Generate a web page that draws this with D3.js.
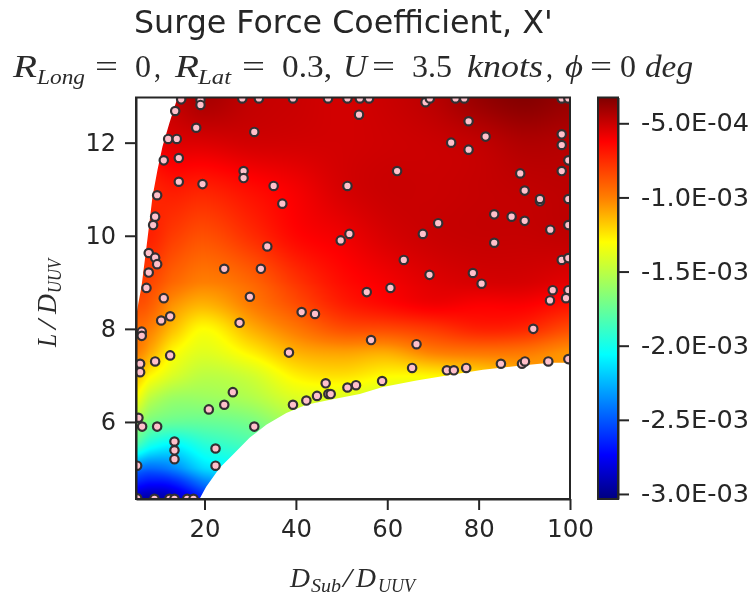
<!DOCTYPE html>
<html><head><meta charset="utf-8">
<script src="https://cdn.jsdelivr.net/npm/d3@7"></script>
<style>html,body{margin:0;padding:0;background:#fff}svg{display:block;filter:blur(0.55px)}</style>
</head><body><svg id="c" width="755" height="598"></svg>
<script>
const xTicks=[20,40,60,80,100];
const yTicks=[6,8,10,12];
const cbTicks=[-5e-4,-1e-3,-1.5e-3,-2e-3,-2.5e-3,-3e-3];
const xDomain=[5,100], yDomain=[4.345,12.97], cDomain=[-3.034e-3,-3.26e-4];
const jetStops=["#00007f","#0000ff","#007fff","#00ffff","#7fff7f","#ffff00","#ff7f00","#ff0000","#7f0000"];
const jetPos=[0,0.11,0.236,0.36,0.5,0.64,0.75,0.89,1];
const gridX=[5,8,13,20,30,40,50,60,70,80,90,100];
const gridY=[13,12,11,10,9,8.5,8,7.5,7,6.5,6,5.5,5,4.7,4.345];
const gridZ=[
[-.50,-.50,-.48,-.42,-.48,-.50,-.52,-.50,-.46,-.38,-.34,-.38],
[-.60,-.60,-.55,-.54,-.52,-.52,-.52,-.51,-.50,-.48,-.44,-.45],
[-.75,-.73,-.70,-.72,-.66,-.60,-.53,-.50,-.50,-.49,-.48,-.47],
[-.75,-.72,-.80,-.86,-.76,-.64,-.59,-.53,-.50,-.49,-.49,-.48],
[-.80,-.83,-.93,-1.0,-.93,-.78,-.66,-.60,-.55,-.53,-.53,-.56],
[-.86,-.90,-1.05,-1.13,-1.0,-.86,-.72,-.65,-.60,-.62,-.62,-.68],
[-.95,-1.0,-1.15,-1.3,-1.12,-.98,-.86,-.84,-.79,-.72,-.74,-.85],
[-1.0,-1.1,-1.29,-1.39,-1.27,-1.12,-1.08,-1.1,-1.0,-.97,-.98,-1.05],
[-1.15,-1.28,-1.41,-1.5,-1.44,-1.27,-1.23,-1.29,-1.28,-1.23,-1.15,-1.1],
[-1.33,-1.5,-1.6,-1.6,-1.54,-1.41,-1.41,-1.45,-1.5,-1.5,-1.5,-1.5],
[-1.58,-1.7,-1.75,-1.75,-1.7,-1.55,-1.55,-1.55,-1.55,-1.55,-1.55,-1.55],
[-1.85,-2.0,-2.08,-1.95,-1.85,-1.75,-1.75,-1.75,-1.75,-1.75,-1.75,-1.75],
[-2.4,-2.45,-2.38,-2.15,-2.05,-2.0,-2.0,-2.0,-2.0,-2.0,-2.0,-2.0],
[-2.65,-2.7,-2.66,-2.4,-2.2,-2.2,-2.2,-2.2,-2.2,-2.2,-2.2,-2.2],
[-2.9,-2.95,-2.9,-2.65,-2.4,-2.4,-2.4,-2.4,-2.4,-2.4,-2.4,-2.4]];
const leftEdgeX=[14.2,12.33,10.79,9.7,8.6,7.94,7.29,6.19,5.53,4.9];
const leftEdgeY=[13,12.43,11.91,11.41,10.83,10.28,9.76,8.9,8.56,8.19];
const lowEdgeX=[18.9,20.37,23.29,26.14,29.86,33.52,37.91,42.29,48.06,53.98,59.02,66.4,73.7,80.94,88.33,95.62,100];
const lowEdgeY=[4.345,4.61,5.01,5.29,5.66,5.94,6.19,6.37,6.49,6.6,6.75,6.89,7.01,7.12,7.2,7.27,7.27];
const pointX=[14.89,19.12,19.12,28.26,31.9,39.36,47.03,51.28,54,53.82,13.58,18.18,30.89,12.04,13.93,14.37,11.08,28.55,28.55,14.37,19.56,35.13,51.28,37.03,9.63,9.19,8.75,51.72,49.81,33.74,7.79,9.19,9.63,7.79,24.32,32.34,7.29,11.08,29.93,
56.01,68.38,69.32,74.95,76.84,98.19,99.64,77.8,81.53,73.99,77.8,98.19,98.19,99.64,62.15,89.11,98.19,90.08,99.64,93.43,93.43,83.41,87.22,90.08,71.14,67.79,95.69,99.64,83.41,63.62,98.19,99.64,69.25,78.74,80.65,60.7,55.51,96.22,99.64,99.13,95.62,
12.48,10.51,27.67,41.26,44.18,6.26,6.26,12.48,9.19,5.9,5.9,38.48,26.2,24.32,20.94,46.52,51.28,53.16,47.11,47.62,44.62,42.29,39.36,30.89,5.53,6.34,9.63,13.42,13.42,13.42,22.41,22.41,5.25,5.25,9.04,12.33,13.42,16.21,17.59,58.87,65.44,56.45,66.4,73.05,74.58,77.28,84.88,89.49,90.14,95.25,99.64,91.96];
const pointY=[12.93,12.92,12.81,12.95,12.95,12.95,12.95,12.95,12.95,12.6,12.68,12.32,12.23,12.08,12.08,11.67,11.62,11.39,11.24,11.16,11.11,11.07,11.07,10.69,10.87,10.41,10.23,10.04,9.9,9.77,9.63,9.53,9.39,9.21,9.29,9.29,8.88,8.66,8.69,
12.95,12.87,12.95,12.95,12.95,12.95,12.95,12.46,12.13,12.0,11.85,12.18,11.95,11.62,11.39,11.34,11.39,10.97,10.79,10.74,10.79,10.46,10.41,10.32,10.27,10.04,10.13,10.23,9.85,9.48,9.48,9.52,9.16,9.2,8.97,8.88,8.79,8.83,8.83,8.66,8.61,
8.27,8.18,8.13,8.36,8.32,7.94,7.85,7.43,7.3,7.25,7.07,7.49,6.64,6.37,6.27,6.83,6.74,6.79,6.6,6.6,6.56,6.46,6.37,5.9,6.09,5.9,5.9,5.58,5.39,5.2,5.43,5.06,5.06,4.36,4.35,4.35,4.35,4.35,4.35,6.88,7.16,7.76,7.67,7.11,7.11,7.16,7.25,7.25,7.3,7.3,7.35,8.0];

const L=136,R=570,T=97.5,B=499, CL=598,CR=618;
const x=d3.scaleLinear(xDomain,[L,R]);
const y=d3.scaleLinear(yDomain,[B,T]);
const cY=d3.scaleLinear(cDomain,[B,T]);
const jet=d3.scaleLinear().domain(jetPos).range(jetStops).clamp(true);
const cNorm=d3.scaleLinear(cDomain,[0,1]);
const color=v=>jet(cNorm(v));
const svg=d3.select("#c");
const ink="#262626", FONT="'DejaVu Sans'", SERIF="'Liberation Serif'";

const ix=d3.scaleLinear(gridX,d3.range(gridX.length)).clamp(true);
const iy=d3.scaleLinear(gridY,d3.range(gridY.length)).clamp(true);
const cr=(a,b,c,d,t)=>b+0.5*t*(c-a+t*(2*a-5*b+4*c-d+t*(3*(b-c)+d-a)));
function field(px,py){
  const u=ix(px),w=iy(py),i=Math.min(Math.floor(u),gridX.length-2),j=Math.min(Math.floor(w),gridY.length-2);
  const tu=u-i,tw=w-j,rows=[];
  for(let m=-1;m<=2;m++){
    const r=gridZ[Math.max(0,Math.min(gridY.length-1,j+m))];
    const g=k=>r[Math.max(0,Math.min(gridX.length-1,k))];
    rows.push(cr(g(i-1),g(i),g(i+1),g(i+2),tu));
  }
  return cr(rows[0],rows[1],rows[2],rows[3],tw)*1e-3;
}
const W=Math.ceil(R-L),H=Math.ceil(B-T);
const cv=document.createElement("canvas");cv.width=W;cv.height=H;
const ctx=cv.getContext("2d"),im=ctx.createImageData(W,H);
for(let j=0;j<H;j++)for(let i=0;i<W;i++){
  const c=d3.rgb(color(field(x.invert(L+i+.5),y.invert(T+j+.5)))),p=(j*W+i)*4;
  im.data[p]=c.r;im.data[p+1]=c.g;im.data[p+2]=c.b;im.data[p+3]=255;
}
ctx.putImageData(im,0,0);
const defs=svg.append("defs");
const poly=[];
leftEdgeX.forEach((d,i)=>poly.push([x(d),y(leftEdgeY[i])]));
poly.push([x(xDomain[0]),y(leftEdgeY[leftEdgeY.length-1])],[x(xDomain[0]),y(yDomain[0])]);
lowEdgeX.forEach((d,i)=>poly.push([x(d),y(lowEdgeY[i])]));
poly.push([x(xDomain[1]),y(13)]);
defs.append("clipPath").attr("id","field").append("path").attr("d",d3.line()(poly)+"Z");
defs.append("clipPath").attr("id","plot").append("rect").attr("x",L).attr("y",T).attr("width",R-L).attr("height",B-T);
const grad=defs.append("linearGradient").attr("id","cb").attr("x1",0).attr("x2",0).attr("y1",1).attr("y2",0);
jetPos.forEach((p,i)=>grad.append("stop").attr("offset",p).attr("stop-color",jetStops[i]));

svg.append("image").attr("x",L).attr("y",T).attr("width",W).attr("height",H)
  .attr("href",cv.toDataURL()).attr("clip-path","url(#field)");
svg.append("g").attr("clip-path","url(#plot)").selectAll("circle").data(pointX).join("circle")
  .attr("cx",d=>x(d)).attr("cy",(d,i)=>y(pointY[i])).attr("r",4.2)
  .attr("fill","#ffc0cb").attr("stroke","#333033").attr("stroke-width",2.2);

function styleAxis(g,fs){
  g.selectAll("path").attr("stroke",ink).attr("stroke-width",2);
  g.selectAll("line").attr("stroke",ink).attr("stroke-width",2);
  g.selectAll("text").attr("fill",ink).attr("font-family",FONT).attr("font-size",fs);
}
const gx=svg.append("g").attr("transform",`translate(0,${B})`).call(d3.axisBottom(x).tickValues(xTicks).tickSize(11).tickPadding(10).tickSizeOuter(0));
styleAxis(gx,24);
gx.selectAll("text").attr("textLength",d=>d===100?47:31).attr("lengthAdjust","spacingAndGlyphs");
const gy=svg.append("g").attr("transform",`translate(${L},0)`).call(d3.axisLeft(y).tickValues(yTicks).tickSize(11).tickPadding(9).tickSizeOuter(0));
styleAxis(gy,24);
svg.append("rect").attr("x",L).attr("y",T).attr("width",R-L).attr("height",B-T).attr("fill","none").attr("stroke",ink).attr("stroke-width",2);

svg.append("rect").attr("x",CL).attr("y",T).attr("width",CR-CL).attr("height",B-T).attr("fill","url(#cb)");
const gc=svg.append("g").attr("transform",`translate(${CR},0)`).call(d3.axisRight(cY).tickValues(cbTicks).tickSize(11).tickPadding(12).tickSizeOuter(0)
  .tickFormat(d=>d.toExponential(1).toUpperCase().replace(/E([+-])(\d)$/,"E$10$2")));
styleAxis(gc,24);
gc.selectAll("text").attr("textLength",108).attr("lengthAdjust","spacingAndGlyphs");
svg.append("rect").attr("x",CL).attr("y",T).attr("width",CR-CL).attr("height",B-T).attr("fill","none").attr("stroke",ink).attr("stroke-width",2);

svg.append("text").attr("x",134).attr("y",33).attr("font-family",FONT).attr("font-size",31.7).attr("fill",ink).text("Surge Force Coefficient, X'");

function pieces(parent,list){
  list.forEach(([s,px,py,len,it,size])=>{
    parent.append("text").attr("x",px).attr("y",py).attr("font-family",SERIF).attr("fill","#2a2a2a")
      .attr("font-size",size).attr("font-style",it?"italic":"normal")
      .attr("textLength",len).attr("lengthAdjust","spacingAndGlyphs").text(s);
  });
}
pieces(svg,[
 ["R",13,77,24,1,32],["Long",37,84,48,1,21],["=",95,77,23,0,32],["0",135,77,16,0,32],[",",154,77,7,0,32],
 ["R",175,77,24,1,32],["Lat",198,84,33,1,21],["=",242,77,23,0,32],["0.3,",282,77,50,0,32],
 ["U",343,77,24,1,32],["=",372,77,23,0,32],["3.5",412,77,40,0,32],["knots",467,77,76,1,32],[",",546,77,7,0,32],
 ["ϕ",565,77,18,1,32],["=",590,77,22,0,32],["0",620,77,16,0,32],["deg",645,77,48,1,32]]);
pieces(svg,[["D",290,587,20,1,28],["Sub",311,592,30,1,18],["/",343,587,9,1,28],["D",356,587,20,1,28],["UUV",378,592,37,1,18]]);
pieces(svg.append("g").attr("transform","translate(56,347) rotate(-90)"),
 [["L",0,0,13,1,28],["/",18,0,9,1,28],["D",33,0,20,1,28],["UUV",54,5,34,1,18]]);
</script></body></html>
